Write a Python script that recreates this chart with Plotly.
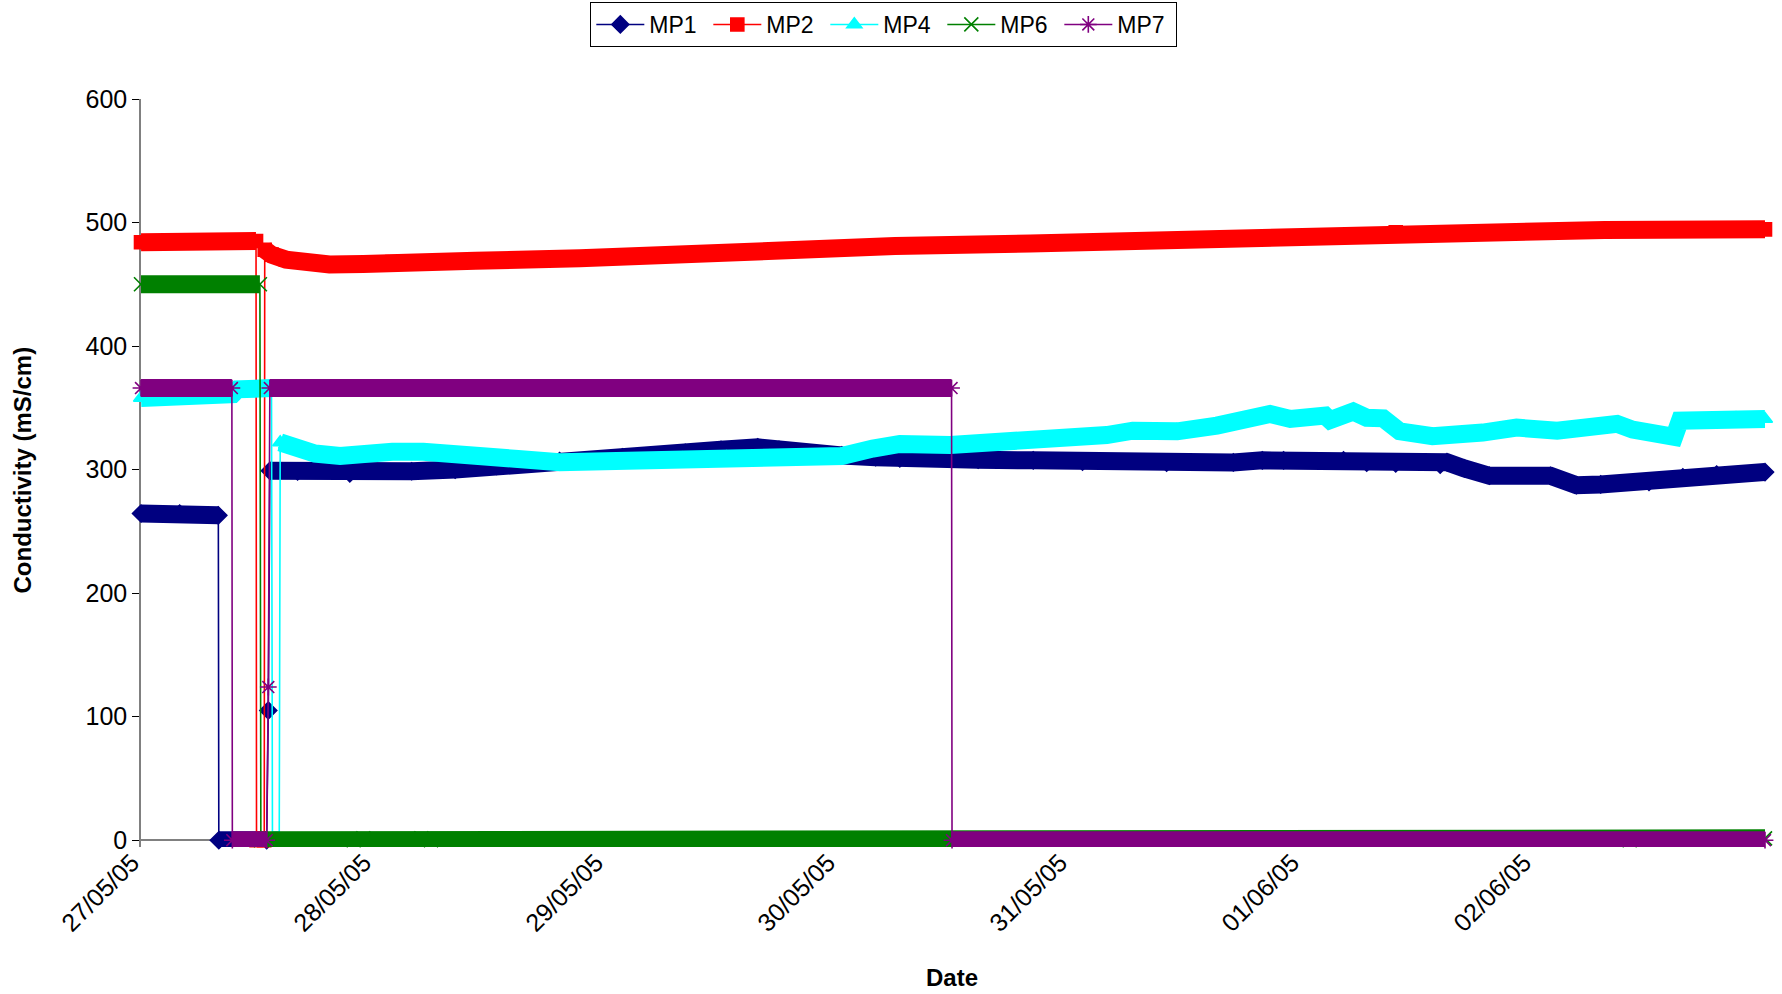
import pandas as pd
import plotly.graph_objects as go

START = pd.Timestamp("2005-05-27 00:00")

# Readings: hours since 27/05/05 00:00 and conductivity (mS/cm)
mp1_hours = [0, 4, 8.0, 8.05, 13.0, 13.17, 13.33, 16.2, 21.6, 28, 32.5, 36.8, 43.3,
             49.8, 56.3, 60, 63.8, 66, 68.2, 72.5, 76, 78.5, 86.6, 92.3, 97.4, 106.1,
             113, 116, 118.2, 124.4, 126.8, 129.8, 134.4, 135.1, 136.9, 139.5, 145.8,
             148.5, 151, 156, 159.5, 163, 168]
mp1_values = [264.5, 264.5, 263, 0, 0, 105, 299, 298.5, 297, 298.7, 300, 303, 307,
              310, 313.5, 316, 318, 316, 313, 311.5, 310, 309, 308, 307.5, 306.5, 305.6,
              305.8, 307.5, 307.5, 307.5, 305.6, 305, 304, 306, 301, 295, 295,
              287.3, 288, 290, 293.7, 296, 298]

mp2_hours = [0, 6, 11.9, 11.95, 12.75, 12.8, 13.5, 15, 17, 19.5, 23, 26, 34.6, 45.4,
             54, 65, 78, 92, 103, 113.6, 124.5, 129.8, 135.2, 140.7, 151.4, 168]
mp2_values = [484, 484.5, 485, 0, 0, 478, 474, 470, 467.5, 466, 466.5, 468, 469, 471,
              474, 477, 481, 483, 485, 488, 489, 492, 491, 492, 494, 494.5]

mp4_hours = [0, 4, 8, 9.5, 10, 13.5, 13.6, 14.3, 14.4, 15, 16.2, 18, 20.6, 23, 26,
             29.2, 31.4, 34.6, 39, 43.3, 48, 52, 56, 60.6, 65, 72.5, 75.7, 78.5, 83.7,
             88.9, 97.1, 99.9, 102.6, 107.2, 111.3, 114.7, 116.8, 118.9, 121.6, 122.5,
             123, 125.4, 126.8, 128.5, 130.2, 133.6, 138.8, 142.3, 146.5, 150, 152.7,
             154.3, 157.4, 158.6, 159.2, 163, 165, 168]
mp4_values = [358, 359.5, 360.5, 361, 365, 366, 0, 0, 322, 320, 316, 313, 311, 313, 314.5,
              314.5, 312.4, 312, 308.6, 306, 306.5, 307.8, 309, 310, 310.5, 311, 317, 320.8, 320,
              322.4, 324, 328, 331.5, 331, 335.6, 339.6, 345, 341, 341, 343.7,
              340, 347, 342, 341.5, 331, 327, 330, 334, 331.5, 334, 337,
              332.4, 328, 326.5, 339.6, 340, 341.5, 341]

mp6_hours = [0, 12.3, 12.4, 22, 23, 29, 30, 154, 154.5, 168]
mp6_values = [450, 450, 0, 0, 1.5, 1.5, 0, 0, 1.5, 1.5]

mp7_hours = [0, 9.4, 9.45, 13.0, 13.17, 13.33, 83.85, 83.9, 168]
mp7_values = [366, 366, 0, 0, 124, 366, 366, 0, 0]

series_names = ["MP1", "MP2", "MP4", "MP6", "MP7"]
series_colors = ["#000080", "#FF0000", "#00FFFF", "#008000", "#800080"]
series_symbols = ["diamond", "square", "triangle-up", "x-thin-open", "asterisk-open"]
marker_sizes = [13, 13, 13, 14, 14]

tick_dates = ["2005-05-27", "2005-05-28", "2005-05-29", "2005-05-30",
              "2005-05-31", "2005-06-01", "2005-06-02"]
tick_labels = ["27/05/05", "28/05/05", "29/05/05", "30/05/05",
               "31/05/05", "01/06/05", "02/06/05"]

y_ticks = [0, 100, 200, 300, 400, 500, 600]

FONT = "Liberation Sans, Arial, sans-serif"


def to_time(hours):
    return [None if h is None else START + pd.Timedelta(hours=h) for h in hours]


def band_path(hours, values, jump=40):
    """Break the heavy band wherever the logger jumps (sensor dropouts)."""
    xs, ys = [], []
    for i, (h, v) in enumerate(zip(hours, values)):
        if i and abs(v - values[i - 1]) > jump:
            xs.append(None)
            ys.append(None)
        xs.append(h)
        ys.append(v)
    return xs, ys


data = [
    (mp1_hours, mp1_values),
    (mp2_hours, mp2_values),
    (mp4_hours, mp4_values),
    (mp6_hours, mp6_values),
    (mp7_hours, mp7_values),
]

fig = go.Figure()
for (hours, values), name, color, symbol, msize in zip(
        data, series_names, series_colors, series_symbols, marker_sizes):
    bx, by = band_path(hours, values)
    fig.add_trace(go.Scatter(
        x=to_time(bx), y=by, mode="lines",
        line=dict(color=color, width=18),
        showlegend=False, hoverinfo="skip", connectgaps=False,
    ))
    fig.add_trace(go.Scatter(
        x=to_time(hours), y=values, mode="lines+markers", name=name,
        line=dict(color=color, width=1.6),
        marker=dict(symbol=symbol, size=msize, color=color,
                    line=dict(color=color, width=1.6)),
        cliponaxis=False,
    ))

fig.update_layout(
    width=1782, height=994,
    margin=dict(l=141, r=17, t=99, b=147, autoexpand=False),
    paper_bgcolor="white", plot_bgcolor="white",
    font=dict(family=FONT, size=23, color="black"),
    showlegend=True,
    legend=dict(
        orientation="h", x=0.4574, y=1.1297, xanchor="center", yanchor="top",
        bordercolor="black", borderwidth=1, bgcolor="white",
        font=dict(family=FONT, size=23, color="black"),
        itemwidth=48, entrywidth=54, entrywidthmode="pixels",
        tracegroupgap=0,
    ),
    xaxis=dict(
        type="date",
        range=[START, START + pd.Timedelta(hours=168)],
        tickvals=[pd.Timestamp(d) for d in tick_dates],
        ticktext=tick_labels,
        tickangle=-45, ticks="", showline=False, showgrid=False,
        ticklabelshift=-9, ticklabelstandoff=-5,
        tickfont=dict(family=FONT, size=25, color="black"),
    ),
    yaxis=dict(
        range=[-5.5, 600], tickvals=y_ticks,
        ticks="outside", ticklen=7, tickcolor="black", tickwidth=1,
        showline=True, linecolor="#808080", linewidth=1.5,
        showgrid=False, zeroline=True, zerolinecolor="#808080", zerolinewidth=1.5,
        layer="below traces",
        tickfont=dict(family=FONT, size=25, color="black"),
    ),
    annotations=[
        dict(text="<b>Conductivity (mS/cm)</b>", xref="paper", yref="paper",
             x=-0.0727, y=0.5046, xanchor="center", yanchor="middle",
             textangle=-90, showarrow=False,
             font=dict(family=FONT, size=24, color="black")),
        dict(text="<b>Date</b>", xref="paper", yref="paper",
             x=0.4994, y=-0.1746, xanchor="center", yanchor="middle",
             showarrow=False, font=dict(family=FONT, size=24, color="black")),
    ],
)

fig.write_html("out.html")
